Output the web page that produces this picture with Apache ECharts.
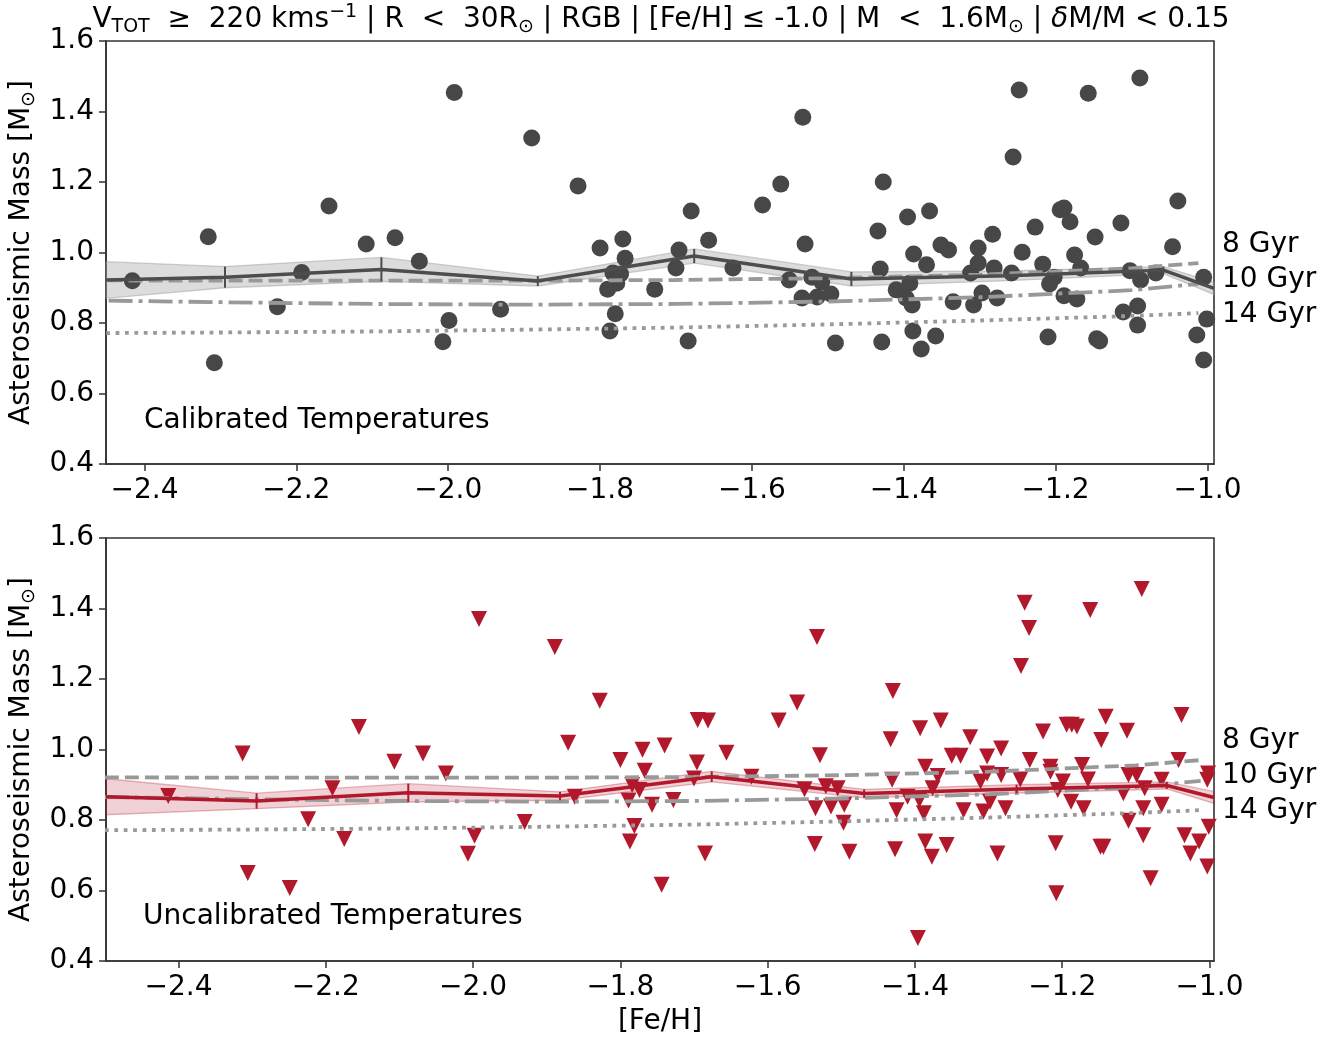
<!DOCTYPE html>
<html>
<head>
<meta charset="utf-8">
<title>Asteroseismic mass vs [Fe/H]</title>
<script src="https://cdn.jsdelivr.net/npm/echarts@6.0.0/dist/echarts.min.js"></script>
<style>
  html, body { margin: 0; padding: 0; background: #ffffff; }
  #chart { width: 1336px; height: 1037px; }
</style>
</head>
<body>
<div id="chart"></div>
<script>
// ---- Calibrated temperatures: individual stars ----
const calFeh = [
  -2.416, -2.316, -2.308, -2.225, -2.193, -2.157, -2.108, -2.070, -2.038, -1.999,
  -2.007, -1.992, -1.931, -1.890, -1.829, -1.800, -1.770, -1.767, -1.783, -1.773,
  -1.778, -1.790, -1.780, -1.787, -1.728, -1.696, -1.700, -1.657, -1.684, -1.680,
  -1.625, -1.586, -1.562, -1.533, -1.530, -1.551, -1.534, -1.521, -1.514, -1.508,
  -1.496, -1.490, -1.434, -1.427, -1.431, -1.429, -1.410, -1.395, -1.397, -1.392,
  -1.389, -1.388, -1.387, -1.377, -1.370, -1.366, -1.358, -1.351, -1.341, -1.335,
  -1.312, -1.302, -1.302, -1.283, -1.281, -1.297, -1.308, -1.277, -1.258, -1.256,
  -1.248, -1.244, -1.227, -1.217, -1.210, -1.208, -1.202, -1.194, -1.189, -1.181,
  -1.175, -1.167, -1.189, -1.172, -1.157, -1.148, -1.146, -1.142, -1.114, -1.102,
  -1.088, -1.068, -1.111, -1.092, -1.092, -1.089, -1.039, -1.046, -1.005, -1.001,
  -1.014, -1.005
];
const calMass = [
  0.920, 1.045, 0.687, 0.846, 0.943, 1.132, 1.024, 1.042, 0.975, 0.807,
  0.747, 1.454, 0.839, 1.325, 1.189, 1.013, 1.038, 0.984, 0.942, 0.939,
  0.913, 0.896, 0.826, 0.777, 0.896, 1.007, 0.956, 1.035, 0.749, 1.118,
  0.956, 1.135, 1.194, 1.384, 1.024, 0.922, 0.871, 0.930, 0.874, 0.916,
  0.882, 0.743, 1.061, 1.200, 0.953, 0.746, 0.894, 1.101, 0.871, 0.913,
  0.851, 0.777, 0.996, 0.726, 0.965, 1.118, 0.763, 1.021, 1.007, 0.860,
  0.942, 1.013, 0.970, 1.052, 0.956, 0.885, 0.851, 0.871, 0.942, 1.271,
  1.461, 1.001, 1.072, 0.967, 0.760, 0.911, 0.930, 1.121, 1.126, 1.087,
  0.993, 0.956, 0.877, 0.868, 1.452, 1.044, 0.755, 0.749, 1.084, 0.948,
  0.922, 0.942, 0.831, 0.848, 0.794, 1.495, 1.146, 1.016, 0.930, 0.811,
  0.766, 0.695
];

// ---- Uncalibrated temperatures: individual stars ----
const uncalFeh = [
  -2.414, -2.313, -2.306, -2.249, -2.224, -2.191, -2.175, -2.155, -2.107, -2.068,
  -2.037, -2.007, -1.998, -1.992, -1.930, -1.889, -1.871, -1.862, -1.828,
  -1.800, -1.770, -1.740, -1.767, -1.784, -1.774, -1.789, -1.757, -1.728, -1.781,
  -1.787, -1.696, -1.700, -1.685, -1.744, -1.695, -1.681, -1.656, -1.622, -1.585,
  -1.560, -1.550, -1.529, -1.535, -1.521, -1.505, -1.514, -1.496, -1.497, -1.536,
  -1.489, -1.433, -1.431, -1.393, -1.365, -1.425, -1.410, -1.386, -1.376, -1.394,
  -1.388, -1.369, -1.427, -1.386, -1.357, -1.377, -1.350, -1.338, -1.325, -1.334,
  -1.311, -1.302, -1.302, -1.298, -1.307, -1.283, -1.283, -1.277, -1.288, -1.257,
  -1.244, -1.226, -1.216, -1.216, -1.206, -1.199, -1.209, -1.208, -1.194, -1.187,
  -1.180, -1.188, -1.173, -1.171, -1.165, -1.141, -1.147, -1.148, -1.144, -1.112,
  -1.110, -1.099, -1.117, -1.110, -1.090, -1.088, -1.090, -1.080, -1.065, -1.065,
  -1.042, -1.038, -1.034, -1.014, -1.026, -1.002, -1.003, -1.001, -1.003,
  -1.533, -1.430, -1.256, -1.245, -1.251, -1.162, -1.092, -1.396
];
const uncalMass = [
  0.868, 0.989, 0.650, 0.607, 0.802, 0.890, 0.746, 1.064, 0.965, 0.989,
  0.932, 0.704, 0.755, 1.370, 0.794, 1.291, 1.019, 0.866, 1.138,
  0.970, 0.999, 1.011, 0.940, 0.899, 0.885, 0.855, 0.843, 0.857, 0.783,
  0.739, 0.963, 0.918, 0.705, 0.616, 1.084, 1.082, 0.991, 0.923, 1.082,
  1.133, 0.887, 0.984, 0.833, 0.896, 0.890, 0.838, 0.843, 0.792, 0.732,
  0.710, 1.029, 0.914, 1.060, 1.082, 0.828, 0.866, 0.951, 0.890, 0.857,
  0.819, 0.925, 0.717, 0.739, 0.729, 0.696, 0.982, 0.982, 1.035, 0.828,
  0.909, 0.980, 0.932, 0.852, 0.824, 1.003, 0.928, 0.833, 0.705, 0.915,
  0.970, 1.051, 0.951, 0.937, 0.885, 0.909, 0.734, 0.592, 1.070, 1.070,
  1.065, 0.852, 0.956, 0.833, 0.915, 1.093, 1.027, 0.724, 0.724, 1.053,
  0.928, 0.928, 0.876, 0.798, 0.833, 0.890, 0.757, 0.635, 0.914, 0.843,
  0.970, 1.098, 0.757, 0.739, 0.705, 0.932, 0.914, 0.781, 0.668,
  1.319, 1.166, 1.237, 1.345, 1.416, 1.396, 1.455, 0.465
];

// ---- Running median in [Fe/H] bins (ends run to the axis limits) ----
const calMedFeh   = [-2.4507, -2.294, -2.088, -1.882, -1.676, -1.469, -1.262, -1.058, -0.9914];
const calMedMass  = [0.922, 0.930, 0.952, 0.919, 0.990, 0.925, 0.934, 0.950, 0.898];
const calMedErr   = [0.052, 0.030, 0.034, 0.014, 0.020, 0.020, 0.014, 0.010, 0.017];

const uncalMedFeh  = [-2.4985, -2.294, -2.088, -1.882, -1.676, -1.469, -1.262, -1.058, -0.9939];
const uncalMedMass = [0.866, 0.854, 0.877, 0.868, 0.923, 0.875, 0.888, 0.898, 0.864];
const uncalMedErr  = [0.051, 0.022, 0.026, 0.012, 0.015, 0.012, 0.012, 0.010, 0.017];

// ---- Isochrone masses on the RGB ----
const isoFeh   = [-2.5, -2.3, -2.1, -1.9, -1.7, -1.5, -1.3, -1.1, -1.012];
const iso8Gyr  = [0.921, 0.920, 0.920, 0.920, 0.922, 0.927, 0.937, 0.955, 0.970];
const iso10Gyr = [0.865, 0.859, 0.854, 0.852, 0.854, 0.861, 0.873, 0.893, 0.911];
const iso14Gyr = [0.771, 0.773, 0.776, 0.781, 0.787, 0.796, 0.807, 0.820, 0.828];
const isoNames = ['8 Gyr', '10 Gyr', '14 Gyr'];

// ---- Axis ticks ----
const fehTicks  = [-2.4, -2.2, -2.0, -1.8, -1.6, -1.4, -1.2, -1.0];
const massTicks = [0.4, 0.6, 0.8, 1.0, 1.2, 1.4, 1.6];

const FONT = 'DejaVu Sans';
const FS = 28;
const FS_SMALL = 19;
const INK = '#000000';
const SPINE = '#333333';
const GRAY_DOT = '#474747';
const GRAY_LINE = '#4d4d4d';
const RED = '#b2182b';
const ISO = '#999999';

const zip = (xs, ys) => xs.map((x, i) => [x, ys[i]]);
const fmtTick = v => (v < 0 ? '\u2212' : '') + Math.abs(v).toFixed(1);

const panels = [
  { top: 41,  xMin: -2.4507, xMax: -0.9914 },
  { top: 538, xMin: -2.4985, xMax: -0.9939 }
];

const grids = panels.map(p => ({
  left: 106, top: p.top, width: 1108, height: 423,
  show: true, borderColor: SPINE, borderWidth: 1.6, backgroundColor: 'transparent',
  containLabel: false, outerBoundsMode: 'none'
}));

const xAxes = panels.map((p, i) => ({
  type: 'value', gridIndex: i, min: p.xMin, max: p.xMax,
  axisLine: { show: true, onZero: false, lineStyle: { color: SPINE, width: 1.6 } },
  splitLine: { show: false },
  axisTick: { show: true, length: 7, customValues: fehTicks, lineStyle: { color: SPINE, width: 1.5 } },
  axisLabel: { customValues: fehTicks, formatter: fmtTick, fontSize: FS, fontFamily: FONT, color: INK, margin: 13 },
  name: i === 1 ? '[Fe/H]' : '',
  nameLocation: 'middle', nameGap: 47,
  nameTextStyle: { fontSize: FS, fontFamily: FONT, color: INK }
}));

const yAxes = panels.map((p, i) => ({
  type: 'value', gridIndex: i, min: 0.4, max: 1.6,
  axisLine: { show: true, onZero: false, lineStyle: { color: SPINE, width: 1.6 } },
  splitLine: { show: false },
  axisTick: { show: true, length: 7, customValues: massTicks, lineStyle: { color: SPINE, width: 1.5 } },
  axisLabel: { customValues: massTicks, formatter: v => v.toFixed(1), fontSize: FS, fontFamily: FONT, color: INK, margin: 12 },
  name: '{n|Asteroseismic Mass [M}{s|\u2299}{n|]}',
  nameLocation: 'middle', nameGap: 59, nameRotate: 90,
  nameTextStyle: {
    rich: {
      n: { fontSize: FS, fontFamily: FONT, color: INK, lineHeight: 34 },
      s: { fontSize: FS_SMALL, fontFamily: FONT, color: INK, verticalAlign: 'bottom' }
    }
  }
}));

// shaded uncertainty band around the running median
function bandSeries(idx, feh, med, err, fill, edge) {
  return {
    type: 'custom', xAxisIndex: idx, yAxisIndex: idx, silent: true, z: 1,
    data: [[feh[0], med[0]]],
    renderItem: (params, api) => {
      const upper = feh.map((f, k) => api.coord([f, med[k] + err[k]]));
      const lower = feh.map((f, k) => api.coord([f, med[k] - err[k]])).reverse();
      return {
        type: 'polygon',
        shape: { points: upper.concat(lower) },
        style: { fill: fill, stroke: edge, lineWidth: 1.3 }
      };
    }
  };
}

// short vertical error marks at each bin centre
function errTickSeries(idx, feh, med, err, color) {
  const pts = [];
  for (let k = 1; k < feh.length - 1; k++) pts.push([feh[k], med[k], err[k]]);
  return {
    type: 'custom', xAxisIndex: idx, yAxisIndex: idx, silent: true, z: 6,
    data: pts,
    encode: { x: 0, y: 1 },
    renderItem: (params, api) => {
      const x = api.value(0), y = api.value(1), e = api.value(2);
      const a = api.coord([x, y - e]), b = api.coord([x, y + e]);
      return {
        type: 'line',
        shape: { x1: a[0], y1: a[1], x2: b[0], y2: b[1] },
        style: { stroke: color, lineWidth: 2 }
      };
    }
  };
}

function isoSeries(idx) {
  const styles = [
    { data: iso8Gyr,  type: [14, 6] },
    { data: iso10Gyr, type: [24, 6, 4, 6] },
    { data: iso14Gyr, type: [3.8, 5.6] }
  ];
  return styles.map((s, k) => ({
    type: 'line', name: isoNames[k], xAxisIndex: idx, yAxisIndex: idx,
    data: zip(isoFeh, s.data), showSymbol: false, symbol: 'none', silent: true, z: 4,
    clip: true,
    lineStyle: { color: ISO, width: 3.8, type: s.type, cap: 'butt' }
  }));
}

const series = [
  bandSeries(0, calMedFeh, calMedMass, calMedErr, 'rgba(150,150,150,0.33)', 'rgba(150,150,150,0.45)'),
  {
    type: 'scatter', xAxisIndex: 0, yAxisIndex: 0, z: 3, silent: true,
    data: zip(calFeh, calMass), symbol: 'circle', symbolSize: 17,
    itemStyle: { color: GRAY_DOT, opacity: 1 }
  },
  ...isoSeries(0),
  {
    type: 'line', xAxisIndex: 0, yAxisIndex: 0, z: 5, silent: true,
    data: zip(calMedFeh, calMedMass), symbol: 'none', clip: true,
    lineStyle: { color: GRAY_LINE, width: 3.5 }
  },
  errTickSeries(0, calMedFeh, calMedMass, calMedErr, GRAY_LINE),

  bandSeries(1, uncalMedFeh, uncalMedMass, uncalMedErr, 'rgba(178,24,43,0.2)', 'rgba(178,24,43,0.3)'),
  {
    type: 'scatter', xAxisIndex: 1, yAxisIndex: 1, z: 3, silent: true,
    data: zip(uncalFeh, uncalMass), symbol: 'triangle', symbolRotate: 180, symbolSize: [16, 16],
    itemStyle: { color: RED, opacity: 1 }
  },
  ...isoSeries(1),
  {
    type: 'line', xAxisIndex: 1, yAxisIndex: 1, z: 5, silent: true,
    data: zip(uncalMedFeh, uncalMedMass), symbol: 'none', clip: true,
    lineStyle: { color: RED, width: 3.5 }
  },
  errTickSeries(1, uncalMedFeh, uncalMedMass, uncalMedErr, RED)
];

const txt = (text, x, y, align) => ({
  type: 'text', x: x, y: y, silent: true,
  style: { text: text, font: FS + 'px "' + FONT + '"', fill: INK, align: align || 'left', verticalAlign: 'middle' }
});

const titleRich = {
  n:  { fontSize: FS, fontFamily: FONT, color: INK, lineHeight: 34 },
  it: { fontSize: FS, fontFamily: FONT, color: INK, lineHeight: 34, fontStyle: 'italic' },
  sb: { fontSize: FS_SMALL, fontFamily: FONT, color: INK, verticalAlign: 'bottom' },
  sp: { fontSize: FS_SMALL, fontFamily: FONT, color: INK, verticalAlign: 'top' }
};

const graphic = [
  {
    type: 'text', x: 661, y: 20, silent: true,
    style: {
      text: '{n|V}{sb|TOT}{n|  \u2265  220 kms}{sp|\u22121}{n| | R  <  30R}{sb|\u2299}{n| | RGB | [Fe/H] \u2264 -1.0 | M  <  1.6M}{sb|\u2299}{n| | }{it|\u03b4}{n|M/M < 0.15}',
      rich: titleRich, align: 'center', verticalAlign: 'middle'
    }
  },
  txt('Calibrated Temperatures', 144, 421),
  txt('Uncalibrated Temperatures', 143, 917),
  txt('8 Gyr', 1222, 245), txt('10 Gyr', 1222, 280), txt('14 Gyr', 1222, 315),
  txt('8 Gyr', 1222, 741), txt('10 Gyr', 1222, 776), txt('14 Gyr', 1222, 811)
];

const chart = echarts.init(document.getElementById('chart'), null, { renderer: 'canvas' });
chart.setOption({
  animation: false,
  backgroundColor: '#ffffff',
  grid: grids,
  xAxis: xAxes,
  yAxis: yAxes,
  series: series,
  graphic: graphic
});
</script>
</body>
</html>
